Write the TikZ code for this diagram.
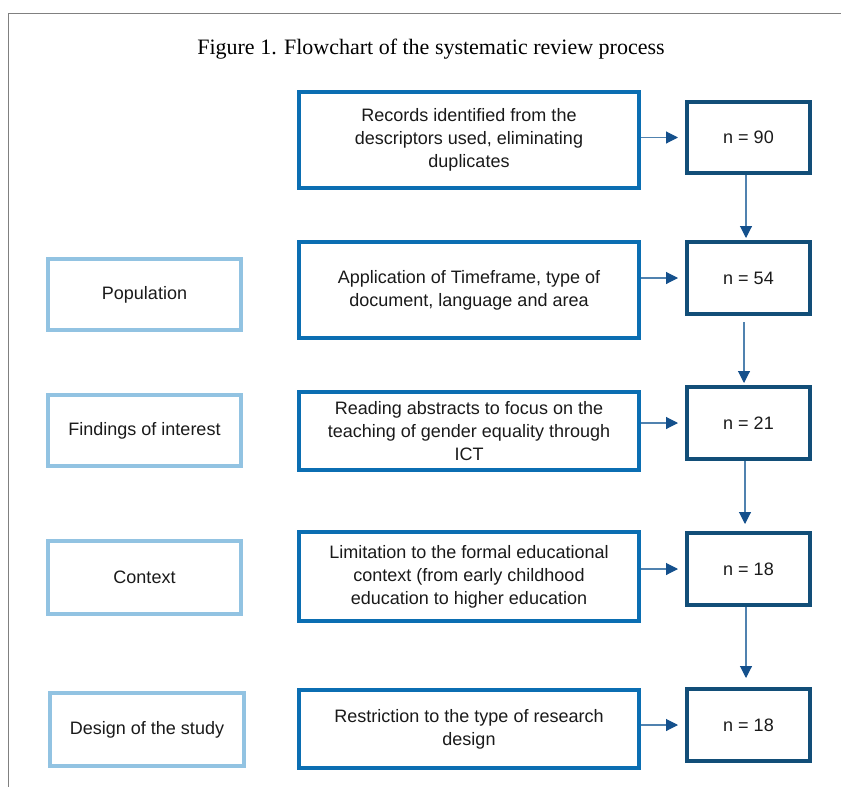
\documentclass[tikz,border=0pt]{standalone}
\usepackage{fontspec}
\setmainfont{Liberation Sans}
\newfontfamily\titlefont{Liberation Serif}
\usetikzlibrary{arrows.meta}
\definecolor{midblue}{RGB}{11,110,178}
\definecolor{nblue}{RGB}{18,78,120}
\definecolor{lightblue}{RGB}{146,195,226}
\definecolor{linkblue}{RGB}{80,130,175}
\definecolor{headblue}{RGB}{20,80,140}
\definecolor{framegray}{RGB}{128,128,128}
\definecolor{txt}{RGB}{26,26,26}
\tikzset{
  basebox/.style={draw, fill=white, line width=4pt, align=center, inner sep=0pt,
    text=txt, font=\fontsize{18}{23}\selectfont},
  midbox/.style={basebox, draw=midblue, minimum width=340pt},
  nbox/.style={basebox, draw=nblue, minimum width=123pt, minimum height=72pt},
  critbox/.style={basebox, draw=lightblue, minimum width=193pt},
  link/.style={draw=linkblue, line width=1.1pt,
    -{Triangle[length=12pt,width=12pt,color=headblue,fill=headblue]}},
}
\begin{document}
\begin{tikzpicture}[x=1pt,y=-1pt]
\useasboundingbox (0,0) rectangle (841,787);
% frame
\draw[framegray, line width=1pt] (8,787) -- (8,13) -- (841,13);
% title
\node[font=\titlefont\fontsize{22}{26}\selectfont, text=black] (title) at (431,49) {Figure 1. Flowchart of the systematic review process};
% middle boxes
\node[midbox, minimum height=96pt] (m1) at (469,140) {Records identified from the\\descriptors used, eliminating\\duplicates};
\node[midbox, minimum height=96pt] (m2) at (469,290) {Application of Timeframe, type of\\document, language and area};
\node[midbox, minimum height=78pt] (m3) at (469,431) {Reading abstracts to focus on the\\teaching of gender equality through\\ICT};
\node[midbox, minimum height=89pt] (m4) at (469,576.5) {Limitation to the formal educational\\context (from early childhood\\education to higher education};
\node[midbox, minimum height=78pt] (m5) at (469,729) {Restriction to the type of research\\design};
% n boxes
\node[nbox, minimum height=71pt] (n1) at (748.5,137.5) {n = 90};
\node[nbox] (n2) at (748.5,278) {n = 54};
\node[nbox] (n3) at (748.5,423) {n = 21};
\node[nbox] (n4) at (748.5,569) {n = 18};
\node[nbox] (n5) at (748.5,725) {n = 18};
% criteria boxes
\node[critbox, minimum height=71pt] (c2) at (144.5,294.5) {Population};
\node[critbox, minimum height=71pt] (c3) at (144.5,430.5) {Findings of interest};
\node[critbox, minimum height=73pt] (c4) at (144.5,577.5) {Context};
\node[critbox, minimum height=73pt, minimum width=194pt] (c5) at (147,729.5) {Design of the study};
% horizontal arrows
\draw[link, shorten >=7pt] (n1.west -| m1.east) -- (n1.west);
\draw[link, shorten >=7pt] (n2.west -| m2.east) -- (n2.west);
\draw[link, shorten >=7pt] (n3.west -| m3.east) -- (n3.west);
\draw[link, shorten >=7pt] (n4.west -| m4.east) -- (n4.west);
\draw[link, shorten >=7pt] (n5.west -| m5.east) -- (n5.west);
% vertical arrows
\draw[link, shorten >=2pt] ([xshift=-2.5pt]n1.south) -- ([xshift=-2.5pt]n2.north);
\draw[link, shorten <=6pt, shorten >=2pt] ([xshift=-4.5pt]n2.south) -- ([xshift=-4.5pt]n3.north);
\draw[link, shorten >=7pt] ([xshift=-3.5pt]n3.south) -- ([xshift=-3.5pt]n4.north);
\draw[link, shorten >=9pt] ([xshift=-2.5pt]n4.south) -- ([xshift=-2.5pt]n5.north);
\end{tikzpicture}
\end{document}
